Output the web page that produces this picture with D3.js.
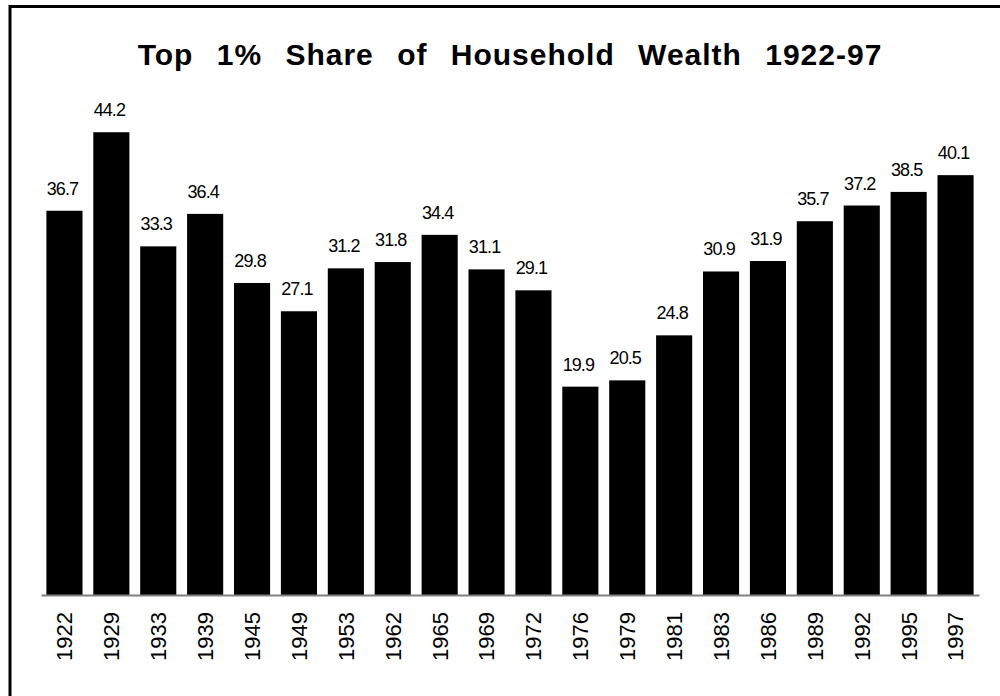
<!DOCTYPE html>
<meta charset="utf-8">
<script src="https://d3js.org/d3.v7.min.js"></script>
<style>
  body { margin: 0; background: #fff; }
  text { font-family: "Liberation Sans", Arial, sans-serif; }
</style>
<div id="chart"></div>
<script>

// data
var years = ["1922","1929","1933","1939","1945","1949","1953","1962","1965","1969",
             "1972","1976","1979","1981","1983","1986","1989","1992","1995","1997"];
var shares = [36.7, 44.2, 33.3, 36.4, 29.8, 27.1, 31.2, 31.8, 34.4, 31.1,
              29.1, 19.9, 20.5, 24.8, 30.9, 31.9, 35.7, 37.2, 38.5, 40.1];
var yDomain = [0, 50];

var W = 1000, H = 696;
var margin = {top: 71.5, right: 21, bottom: 101, left: 41},
    width = W - margin.left - margin.right,
    height = H - margin.top - margin.bottom;

var svg = d3.select("#chart")
  .append("svg")
    .attr("width", W)
    .attr("height", H);

// frame
svg.append("rect")
  .attr("x", 10)
  .attr("y", 6.5)
  .attr("width", 1000)
  .attr("height", 700)
  .attr("fill", "none")
  .attr("stroke", "#000")
  .attr("stroke-width", 3);

// title
svg.append("text")
  .attr("x", 510)
  .attr("y", 65)
  .attr("text-anchor", "middle")
  .style("font-size", "30px")
  .style("font-weight", "bold")
  .style("letter-spacing", "1px")
  .style("word-spacing", "14px")
  .text("Top 1% Share of Household Wealth 1922-97");

var g = svg.append("g")
  .attr("transform", "translate(" + margin.left + "," + margin.top + ")");

var x = d3.scaleBand()
  .domain(years)
  .range([0, width])
  .paddingInner(0.23)
  .paddingOuter(0.115);

var y = d3.scaleLinear()
  .domain(yDomain)
  .range([height, 0]);

var data = years.map(function(d, i) { return {year: d, value: shares[i]}; });

// bars
g.selectAll("rect.bar")
  .data(data)
  .enter()
  .append("rect")
    .attr("class", "bar")
    .attr("x", function(d) { return x(d.year); })
    .attr("y", function(d) { return y(d.value); })
    .attr("width", x.bandwidth())
    .attr("height", function(d) { return height - y(d.value); })
    .attr("fill", "#000");

// value labels
g.selectAll("text.val")
  .data(data)
  .enter()
  .append("text")
    .attr("class", "val")
    .attr("x", function(d) { return x(d.year) + x.bandwidth() / 2 - 2; })
    .attr("y", function(d) { return y(d.value) - 16; })
    .attr("text-anchor", "middle")
    .style("font-size", "18px")
    .style("letter-spacing", "-0.9px")
    .text(function(d) { return d.value.toFixed(1); });

// x axis
var xAxis = g.append("g")
  .attr("transform", "translate(0," + height + ")")
  .call(d3.axisBottom(x).tickSize(0).tickPadding(0));

xAxis.select(".domain")
  .attr("stroke", "#808080")
  .attr("stroke-width", 2);

xAxis.selectAll(".tick text")
  .attr("transform", "rotate(-90)")
  .attr("x", -17)
  .attr("y", 0)
  .attr("dy", "0.36em")
  .attr("text-anchor", "end")
  .attr("fill", "#000")
  .style("font-size", "22px")
  .style("font-family", "'Liberation Sans', Arial, sans-serif");

</script>
